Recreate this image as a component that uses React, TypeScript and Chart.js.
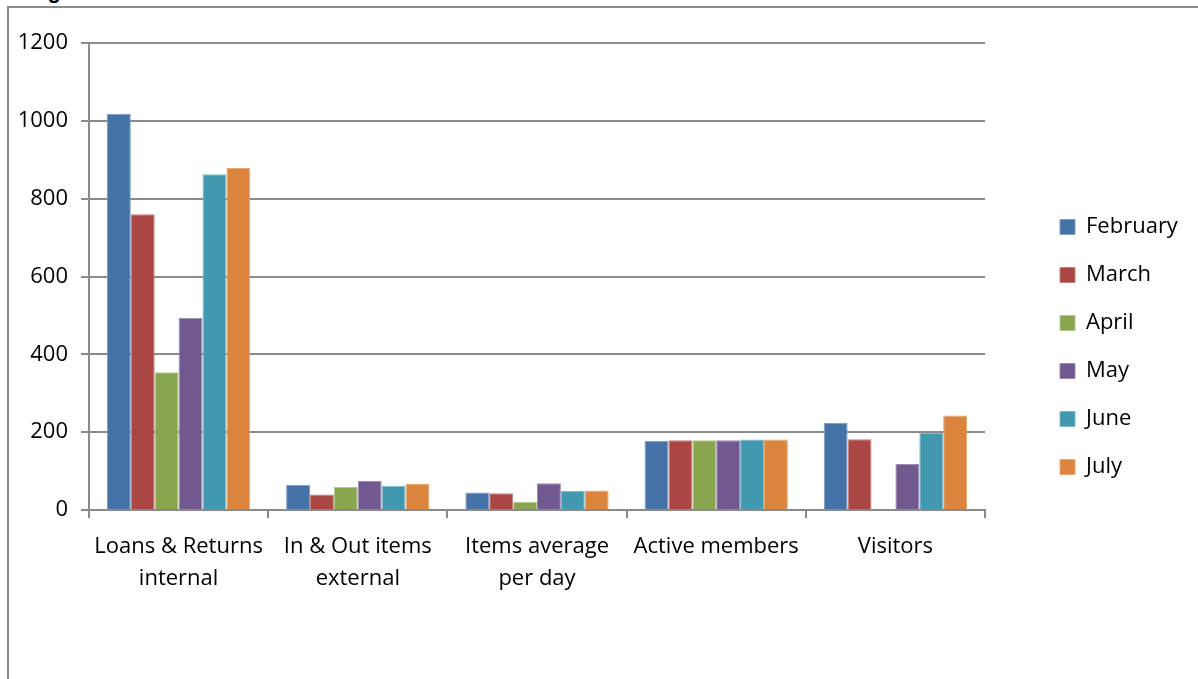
import React, { useEffect, useRef } from "react";
import { Chart, registerables } from "chart.js";

Chart.register(...registerables);

const categories: (string | string[])[] = [
  ["Loans & Returns", "internal"],
  ["In & Out items", "external"],
  ["Items average", "per day"],
  "Active members",
  "Visitors",
];
const months = ["February", "March", "April", "May", "June", "July"];
const february = [1018, 65, 45, 178, 224];
const march = [760, 40, 43, 179, 182];
const april = [354, 59, 21, 179, null];
const may = [494, 75, 69, 179, 118];
const june = [863, 62, 49, 181, 198];
const july = [879, 67, 50, 181, 243];
const seriesValues = [february, march, april, may, june, july];
const colors = ["#4572A7", "#AA4643", "#89A54E", "#71588F", "#4198AF", "#DB843D"];
const edgeColors = ["#7e9cc4", "#c77e7c", "#b0c88a", "#9c8ab3", "#7fbccc", "#eaa86f"];
const yMin = 0;
const yMax = 1200;
const yStep = 200;

const FONT = "'Open Sans', 'Noto Sans', sans-serif";
const GRID = "#8a8a8a";

const LEGEND_W = 213;
const LEGEND_SHIFT_X = 49;
const LEGEND_SHIFT_Y = -14;

const legendPlacement = {
  id: "legendPlacement",
  beforeLayout(chart: any) {
    const lg = chart.legend;
    if (lg && !lg.__patched) {
      const fit = lg.fit.bind(lg);
      lg.fit = function () {
        fit();
        this.width = LEGEND_W;
      };
      lg.__patched = true;
    }
  },
  afterLayout(chart: any) {
    const lg = chart.legend;
    if (lg) {
      lg.left += LEGEND_SHIFT_X;
      lg.right += LEGEND_SHIFT_X;
      lg.top += LEGEND_SHIFT_Y;
      lg.bottom += LEGEND_SHIFT_Y;
    }
  },
};

export default function App() {
  const ref = useRef<HTMLCanvasElement | null>(null);

  useEffect(() => {
    if (!ref.current) return;
    const chart = new Chart(ref.current, {
      type: "bar",
      data: {
        labels: categories as any,
        datasets: months.map((m, i) => ({
          label: m,
          data: seriesValues[i] as any,
          backgroundColor: colors[i],
          borderColor: edgeColors[i],
          borderWidth: 1,
          categoryPercentage: 0.8,
          barPercentage: 1,
        })),
      },
      options: {
        animation: false,
        responsive: false,
        layout: { padding: { top: 36, right: 0, bottom: 0, left: 0 } },
        plugins: {
          tooltip: { enabled: false },
          title: { display: false },
          legend: {
            position: "right",
            labels: {
              boxWidth: 15,
              boxHeight: 15,
              padding: 26,
              color: "#000",
              font: { family: FONT, size: 22 },
            },
          },
        },
        scales: {
          x: {
            afterFit: (s: any) => {
              s.height = 169;
            },
            grid: {
              display: true,
              offset: true,
              drawOnChartArea: false,
              drawTicks: true,
              tickLength: 8,
              color: GRID,
              lineWidth: 2,
            },
            border: { display: true, color: GRID, width: 2 },
            ticks: {
              color: "#000",
              padding: 13,
              maxRotation: 0,
              autoSkip: false,
              font: { family: FONT, size: 22, lineHeight: 1.45 },
            },
          },
          y: {
            min: yMin,
            max: yMax,
            afterFit: (s: any) => {
              s.width = 81;
            },
            grid: {
              color: GRID,
              lineWidth: 2,
              drawTicks: true,
              tickLength: 8,
            },
            border: { display: true, color: GRID, width: 2 },
            ticks: {
              stepSize: yStep,
              color: "#000",
              padding: 13,
              font: { family: FONT, size: 22 },
              callback: (v: any) => String(v),
            },
          },
        },
      },
      plugins: [legendPlacement],
    });
    return () => chart.destroy();
  }, []);

  return (
    <div
      style={{
        position: "fixed",
        left: 0,
        top: 0,
        width: 1198,
        height: 679,
        overflow: "hidden",
        background: "#fff",
      }}
    >
      <div
        style={{
          position: "absolute",
          left: 28,
          top: -21,
          height: 24,
          lineHeight: "24px",
          fontFamily: "Arial, 'Liberation Sans', sans-serif",
          fontWeight: "bold",
          fontSize: 22,
          color: "#000",
          whiteSpace: "nowrap",
        }}
      >
        Figure 4: Statistics
      </div>
      <div
        style={{
          position: "absolute",
          left: 7,
          top: 6,
          width: 1400,
          height: 900,
          borderLeft: `2px solid ${GRID}`,
          borderTop: `2px solid ${GRID}`,
        }}
      />
      <canvas
        ref={ref}
        width={1190}
        height={672}
        style={{ position: "absolute", left: 8, top: 7, width: 1190, height: 672 }}
      />
    </div>
  );
}
